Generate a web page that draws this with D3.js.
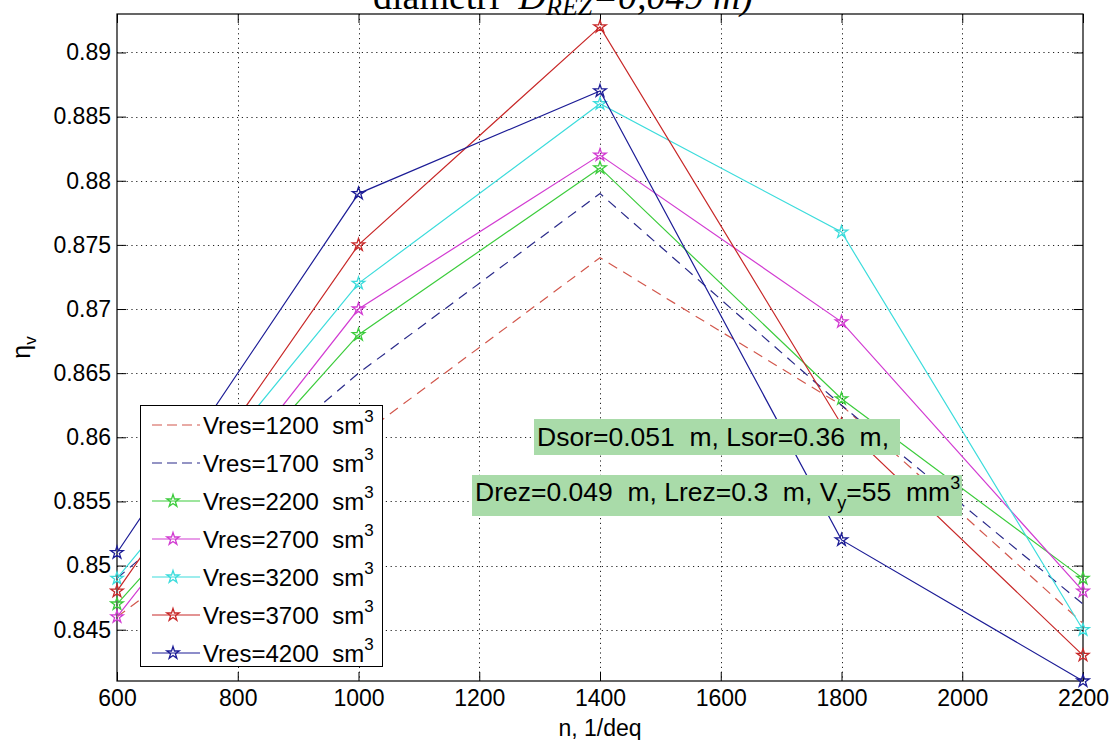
<!DOCTYPE html>
<html><head><meta charset="utf-8">
<script src="https://cdn.jsdelivr.net/npm/d3@7/dist/d3.min.js"></script>
<style>body{margin:0;background:#fff} svg{display:block}</style>
</head><body><svg id="c" width="1111" height="740"></svg>
<script>
// ---- data ----
const xValues = [600, 1000, 1400, 1800, 2200];
const seriesNames = ["1200", "1700", "2200", "2700", "3200", "3700", "4200"];
const v1200 = [0.846, 0.860, 0.874, 0.8625, 0.8455];
const v1700 = [0.849, 0.865, 0.879, 0.8625, 0.847];
const v2200 = [0.847, 0.868, 0.881, 0.863, 0.849];
const v2700 = [0.846, 0.870, 0.882, 0.869, 0.848];
const v3200 = [0.849, 0.872, 0.886, 0.876, 0.845];
const v3700 = [0.848, 0.875, 0.892, 0.861, 0.843];
const v4200 = [0.851, 0.879, 0.887, 0.852, 0.841];
const seriesValues = [v1200, v1700, v2200, v2700, v3200, v3700, v4200];
const seriesColors = ["#d2574c", "#2a2a8a", "#3ccc3c", "#d23cd2", "#3cdcdc", "#c82828", "#1c1c96"];
const seriesDashed = [true, true, false, false, false, false, false];
const seriesMarker = [false, false, true, true, true, true, true];
const xTicks = [600, 800, 1000, 1200, 1400, 1600, 1800, 2000, 2200];
const xTickLabels = ["600", "800", "1000", "1200", "1400", "1600", "1800", "2000", "2200"];
const yTicks = [0.845, 0.85, 0.855, 0.86, 0.865, 0.87, 0.875, 0.88, 0.885, 0.89];
const yTickLabels = ["0.845", "0.85", "0.855", "0.86", "0.865", "0.87", "0.875", "0.88", "0.885", "0.89"];
const xDomain = [600, 2200];
const yDomain = [0.841, 0.893];

// ---- layout ----
const L = 117, R = 1083, T = 14, B = 681;
const FONT = "'Liberation Sans', Arial, sans-serif";
const svg = d3.select("#c");
const x = d3.scaleLinear(xDomain, [L, R]);
const y = d3.scaleLinear(yDomain, [B, T]);

// title (cut off at the top, as in the original figure)
const title = svg.append("text").attr("x", 563).attr("y", 9)
  .attr("text-anchor", "middle").style("font-family", "'Liberation Serif', 'Times New Roman', serif")
  .style("font-size", "38px").style("white-space", "pre");
title.append("tspan").text("diametri  ");
title.append("tspan").style("font-style", "italic").text("D");
title.append("tspan").style("font-style", "italic").style("font-size", "26px").attr("dy", 6).text("REZ");
title.append("tspan").style("font-style", "italic").attr("dy", -6).text("=0,049 m)");

// grid
const grid = svg.append("g").attr("stroke", "#222").attr("stroke-width", 1)
  .attr("stroke-dasharray", "1.2,3.6");
grid.selectAll("line.v").data(xTicks.slice(1, -1)).join("line")
  .attr("x1", d => Math.round(x(d)) + 0.5).attr("x2", d => Math.round(x(d)) + 0.5)
  .attr("y1", T).attr("y2", B);
grid.selectAll("line.h").data(yTicks).join("line")
  .attr("x1", L).attr("x2", R)
  .attr("y1", d => Math.round(y(d)) + 0.5).attr("y2", d => Math.round(y(d)) + 0.5);

// axes
function styleAxis(g) {
  g.select(".domain").remove();
  g.selectAll(".tick line").attr("stroke", "#000");
  g.selectAll(".tick text").style("font-family", FONT).style("font-size", "23px").attr("fill", "#000");
}
const fmtX = d => xTickLabels[xTicks.indexOf(d)];
const fmtY = d => yTickLabels[yTicks.indexOf(d)];
svg.append("g").attr("transform", `translate(0,${B})`)
  .call(d3.axisBottom(x).tickValues(xTicks).tickFormat(fmtX).tickSize(-9).tickPadding(9)).call(styleAxis);
svg.append("g").attr("transform", `translate(0,${T})`)
  .call(d3.axisTop(x).tickValues(xTicks).tickFormat("").tickSize(-9)).call(styleAxis);
svg.append("g").attr("transform", `translate(${L},0)`)
  .call(d3.axisLeft(y).tickValues(yTicks).tickFormat(fmtY).tickSize(-9).tickPadding(6)).call(styleAxis);
svg.append("g").attr("transform", `translate(${R},0)`)
  .call(d3.axisRight(y).tickValues(yTicks).tickFormat("").tickSize(-9)).call(styleAxis);
svg.append("rect").attr("x", L).attr("y", T).attr("width", R - L).attr("height", B - T)
  .attr("fill", "none").attr("stroke", "#000").attr("stroke-width", 1.2);

// axis labels
svg.append("text").attr("x", (L + R) / 2).attr("y", 736).attr("text-anchor", "middle")
  .style("font-family", FONT).style("font-size", "23px").text("n, 1/deq");
const yl = svg.append("text").attr("transform", `translate(30,${(T + B) / 2}) rotate(-90)`)
  .attr("text-anchor", "middle").style("font-family", FONT).style("font-size", "25px");
yl.append("tspan").text("η");
yl.append("tspan").attr("dy", 6).style("font-size", "17px").text("v");

// series
svg.append("clipPath").attr("id", "clip").append("rect")
  .attr("x", L - 8).attr("y", T - 8).attr("width", R - L + 16).attr("height", B - T + 16);
const plot = svg.append("g").attr("clip-path", "url(#clip)");
const line = d3.line().x(d => x(d[0])).y(d => y(d[1]));
const star = d3.symbol().type(d3.symbolStar).size(48);
seriesValues.forEach((vals, i) => {
  const pts = xValues.map((xv, j) => [xv, vals[j]]);
  plot.append("path").datum(pts).attr("d", line).attr("fill", "none")
    .attr("stroke", seriesColors[i]).attr("stroke-width", 1.2)
    .attr("stroke-dasharray", seriesDashed[i] ? "10,7" : null);
  if (seriesMarker[i]) {
    plot.selectAll(null).data(pts).join("path")
      .attr("transform", d => `translate(${x(d[0])},${y(d[1])})`)
      .attr("d", star).attr("fill", "none").attr("stroke", seriesColors[i]).attr("stroke-width", 1.3);
  }
});

// legend
const lg = svg.append("g");
lg.append("rect").attr("x", 140.5).attr("y", 405.5).attr("width", 242).attr("height", 261)
  .attr("fill", "#fff").attr("stroke", "#000").attr("stroke-width", 1);
seriesNames.forEach((name, i) => {
  const cy = 425 + i * 38;
  lg.append("line").attr("x1", 152).attr("x2", 200).attr("y1", cy).attr("y2", cy)
    .attr("stroke", seriesColors[i]).attr("stroke-width", 1.2)
    .attr("stroke-dasharray", seriesDashed[i] ? "10,5" : null);
  if (seriesMarker[i]) {
    lg.append("path").attr("transform", `translate(173,${cy})`).attr("d", star)
      .attr("fill", "none").attr("stroke", seriesColors[i]).attr("stroke-width", 1.3);
  }
  const t = lg.append("text").attr("x", 203).attr("y", cy + 9)
    .style("font-family", FONT).style("font-size", "24px").style("white-space", "pre");
  t.append("tspan").text(`Vres=${name}  sm`);
  t.append("tspan").attr("dy", -12).style("font-size", "17px").text("3");
});

// annotations
const boxFill = "#a9dba9";
svg.append("rect").attr("x", 534).attr("y", 419).attr("width", 366).attr("height", 36).attr("fill", boxFill);
svg.append("text").attr("x", 537).attr("y", 446).style("font-family", FONT).style("font-size", "26.5px")
  .style("white-space", "pre").text("Dsor=0.051  m, Lsor=0.36  m,");
svg.append("rect").attr("x", 472).attr("y", 475).attr("width", 490).attr("height", 41).attr("fill", boxFill);
const a2 = svg.append("text").attr("x", 475).attr("y", 501).style("font-family", FONT).style("font-size", "26.5px")
  .style("white-space", "pre");
a2.append("tspan").text("Drez=0.049  m, Lrez=0.3  m, V");
a2.append("tspan").attr("dy", 8).style("font-size", "18px").text("y");
a2.append("tspan").attr("dy", -8).text("=55  mm");
a2.append("tspan").attr("dy", -12).style("font-size", "18px").text("3");
</script></body></html>
